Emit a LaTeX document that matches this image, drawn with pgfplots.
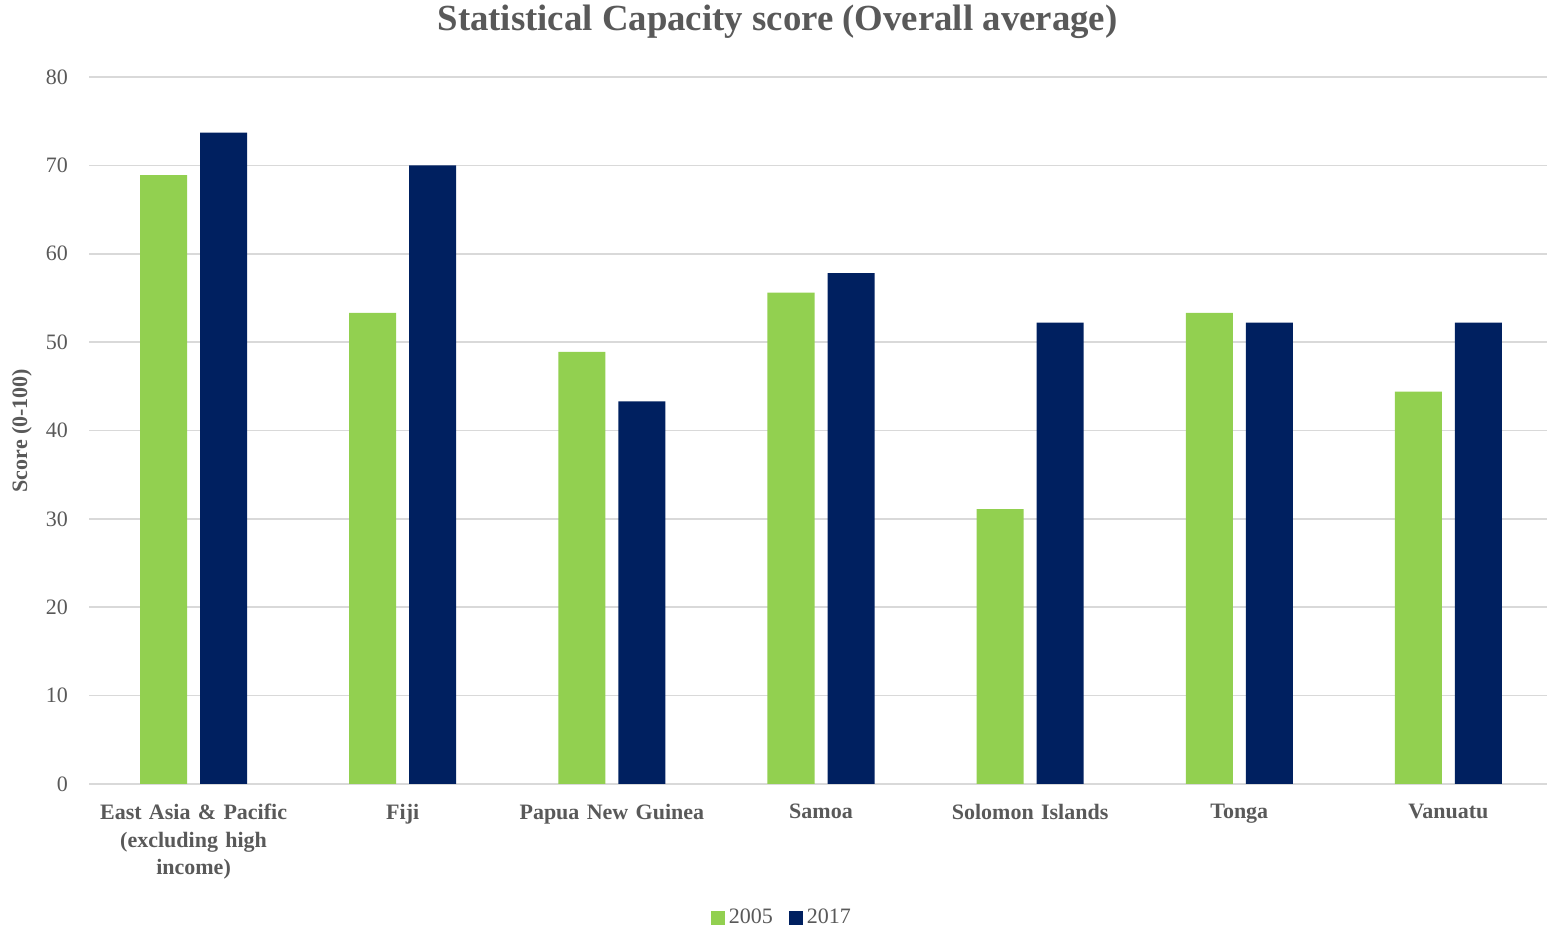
\documentclass[border=0pt]{standalone}
\usepackage{pgfplots}
\pgfplotsset{compat=1.18}
\usepackage{fontspec}
\setmainfont{Liberation Serif}
\definecolor{txtgray}{HTML}{595959}
\definecolor{gridgray}{HTML}{D9D9D9}
\definecolor{bargreen}{HTML}{92D050}
\definecolor{barnavy}{HTML}{002060}
\begin{document}
\begin{tikzpicture}
\path[use as bounding box] (-44.5pt,-73pt) rectangle (729pt,392pt);
\begin{axis}[
  at={(0,0)}, anchor=south west,
  scale only axis,
  width=732pt, height=353.5pt,
  ybar=6.5pt, bar width=23.5pt,
  xmin=-0.5, xmax=6.5,
  ymin=0, ymax=80,
  xtick={0,...,6},
  xticklabels={{East Asia \& Pacific\\(excluding high\\income)},Fiji,Papua New Guinea,Samoa,Solomon Islands,Tonga,Vanuatu},
  xticklabel style={align=center, font=\fontsize{11}{13.8}\selectfont\bfseries, text=txtgray, text width=120pt, yshift=-6.5pt},
  ytick={0,10,...,80},
  yticklabel style={font=\fontsize{11}{13}\selectfont, text=txtgray, xshift=-7pt},
  /pgf/number format/assume math mode=true,
  ymajorgrids, grid style={gridgray, line width=0.8pt},
  axis x line*=bottom, axis y line*=left,
  x axis line style={gridgray, line width=0.8pt, -},
  y axis line style={draw=none},
  major tick length=0pt,
  ylabel={Score (0-100)},
  ylabel style={font=\fontsize{11}{13}\selectfont\bfseries, text=txtgray, at={(axis description cs:-0.0458,0.5)}, anchor=center},
  legend style={at={(axis description cs:0.474,-0.1895)}, anchor=center, draw=none, legend columns=2, font=\fontsize{11}{13}\selectfont, text=txtgray, /tikz/every even column/.append style={column sep=6pt}},
  legend image code/.code={\fill[#1] (0pt,-3.5pt) rectangle (7pt,3.5pt);},
  clip=false,
]
\addplot[fill=bargreen, draw=none] coordinates {(0,68.9) (1,53.3) (2,48.9) (3,55.6) (4,31.1) (5,53.3) (6,44.4)};
\addplot[fill=barnavy, draw=none] coordinates {(0,73.7) (1,70.0) (2,43.3) (3,57.8) (4,52.2) (5,52.2) (6,52.2)};
\legend{2005,2017}
\node[font=\fontsize{18.4}{22}\selectfont\bfseries, text=txtgray] at (axis description cs:0.4703,1.0778) {Statistical Capacity score (Overall average)};
\end{axis}
\end{tikzpicture}
\end{document}
